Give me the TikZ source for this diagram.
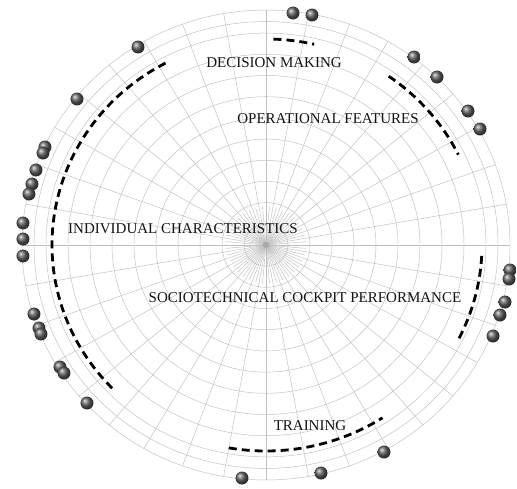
\documentclass[tikz,border=0pt]{standalone}
\usepackage{fontspec}
\setmainfont{Liberation Serif}
\usepackage{xcolor}
\usepackage{tikz}
\usetikzlibrary{shadings}

\begin{document}
\begin{tikzpicture}[
  x=1pt, y=1pt,
  gridline/.style={draw=black!25, line width=0.45pt},
  dasharc/.style={draw=black, line width=2.8pt, dash pattern=on 8pt off 5pt},
  label/.style={font=\fontsize{15}{18}\selectfont, text=black!92, inner sep=0pt, anchor=base},
  ball/.style={ball color=black!62},
]

% Frame of the picture (centre of the grid at the origin)
\useasboundingbox[fill=white] (-266,-243) rectangle (251,245);

% Grid: rings and spokes
\foreach \r in {22,44,...,220,232,244}
  \draw[gridline] (0,0) ellipse[x radius=\r, y radius=0.963*\r];
\foreach \a in {0,10,...,350}
  \draw[gridline] (0,0) -- (\a:244 and 235);
\foreach \a in {5,15,...,355}
  \draw[gridline] (0,0) -- (\a:40 and 38.5);
\fill[black!35] (0,0) circle (3);

% Dashed arcs
\draw[dasharc] (88:214 and 206) arc[start angle=88, end angle=77, x radius=214, y radius=206];
\draw[dasharc] (55:214 and 206) arc[start angle=55, end angle=26, x radius=214, y radius=206];
\draw[dasharc] (118:214 and 206) arc[start angle=118, end angle=225, x radius=214, y radius=206];
\draw[dasharc] (-3:216 and 208) arc[start angle=-3, end angle=-27, x radius=216, y radius=208];
\draw[dasharc] (-100:214 and 206) arc[start angle=-100, end angle=-57, x radius=214, y radius=206];

% Spheres on the rim
\foreach \x/\y in {27/232, 46/230,
    -128/198, -189/146,
    -221/98, -223/92, -230/75, -234/61, -237/51,
    -243/22, -243/6, -243/-11,
    -232/-69, -227/-83, -225/-89, -206/-122, -202/-128, -179/-158,
    -24/-233, 55/-228, 118/-207,
    148/188, 171/168, 202/134, 214/116,
    244/-25, 243/-34, 239/-57, 234/-70, 227/-91}
  \shade[ball] (\x,\y) circle (6.5);

% Labels
\node[label] (decision) at (8,178) {DECISION MAKING};
\node[label] (operational) at (62,122) {OPERATIONAL FEATURES};
\node[label] (individual) at (-83,12) {INDIVIDUAL CHARACTERISTICS};
\node[label] (sociotech) at (39,-57) {SOCIOTECHNICAL COCKPIT PERFORMANCE};
\node[label] (training) at (44,-185) {TRAINING};

\end{tikzpicture}
\end{document}
